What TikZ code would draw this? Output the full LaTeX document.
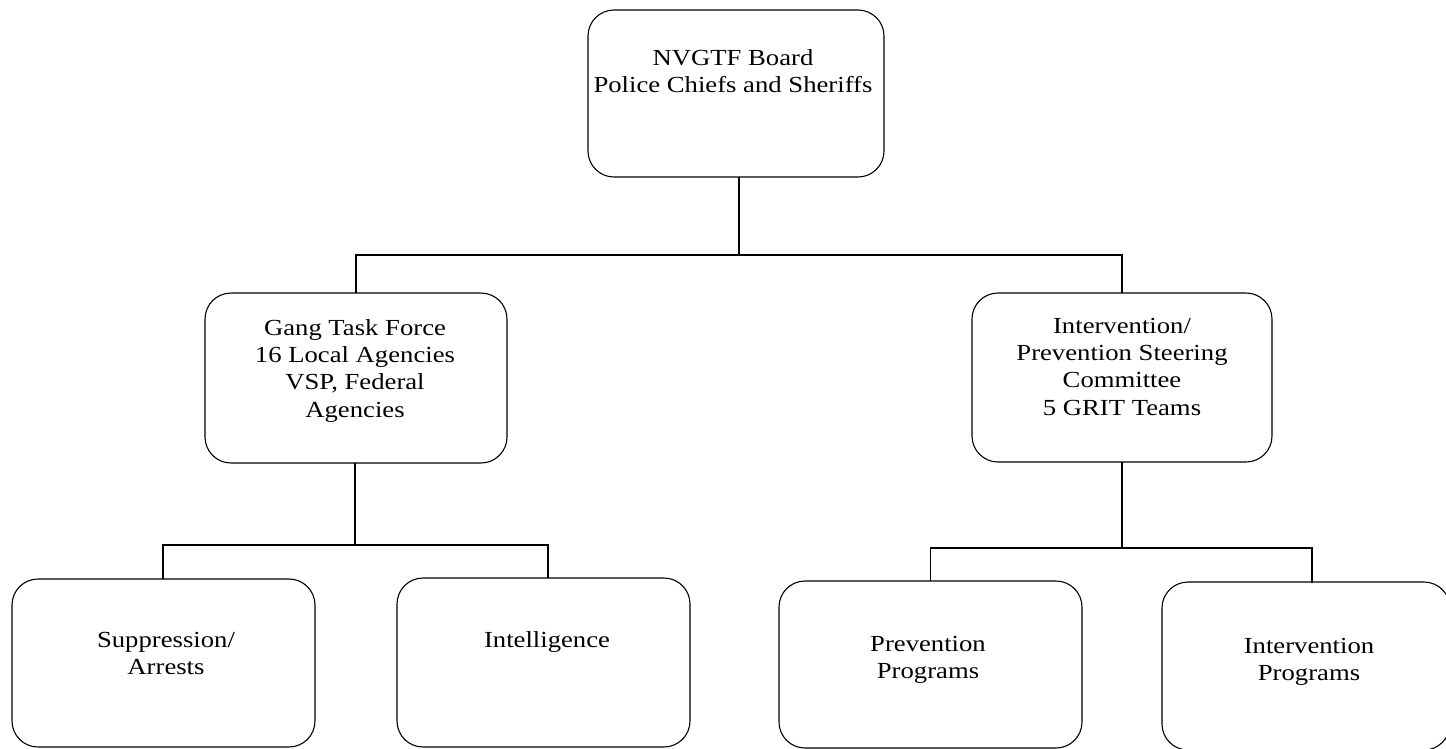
\documentclass[tikz,border=0pt]{standalone}
\usepackage{fontspec}
\setmainfont{Liberation Serif}[FakeStretch=1.16]
\begin{document}
\begin{tikzpicture}[x=1pt,y=-1pt,
  orgbox/.style={draw=black, line width=1.1pt, rounded corners=26pt, inner sep=0pt, minimum width=#1},
  boxtext/.style={anchor=north, inner sep=0pt, align=center, font=\fontsize{23}{27.4}\selectfont},
  conn/.style={draw=black, line width=1.8pt, line cap=rect}]
\useasboundingbox (0,0) rectangle (1446,748);
% boxes
\node[orgbox=296pt, minimum height=167pt] (top)    at (736,93.5) {};
\node[orgbox=302pt, minimum height=170pt] (gang)   at (356,378) {};
\node[orgbox=300pt, minimum height=169pt] (interv) at (1122,377.5) {};
\node[orgbox=303pt, minimum height=168pt] (supp)   at (163.5,663) {};
\node[orgbox=293pt, minimum height=169pt] (intel)  at (543.5,662.5) {};
\node[orgbox=303pt, minimum height=167pt] (prev)   at (930.5,664.5) {};
\node[orgbox=288pt, minimum height=168pt] (iprog)  at (1306,666) {};
% texts
\node[boxtext] (ttop)    at (733,45.8)  {\strut NVGTF Board\\Police Chiefs and Sheriffs};
\node[boxtext] (tgang)   at (355,315.8) {\strut Gang Task Force\\16 Local Agencies\\VSP, Federal\\Agencies};
\node[boxtext] (tinterv) at (1122,313.8) {\strut Intervention/\\Prevention Steering\\Committee\\5 GRIT Teams};
\node[boxtext] (tsupp)   at (166,627.8) {\strut Suppression/\\Arrests};
\node[boxtext] (tintel)  at (547,627.8) {\strut Intelligence};
\node[boxtext] (tprev)   at (928,631.8) {\strut Prevention\\Programs};
\node[boxtext] (tiprog)  at (1309,633.8) {\strut Intervention\\Programs};
% bus coordinates
\coordinate (b1) at (739,255);
\coordinate (b2) at (355,545);
\coordinate (b3) at (1122,548);
\coordinate (ip) at (1312,582);
% connectors
\draw[conn] ([xshift=3pt]top.south) -- (b1);
\draw[conn] (b1) -| (gang.north);
\draw[conn] (b1) -| (interv.north);
\draw[conn] ([xshift=-1pt]gang.south) -- (b2);
\draw[conn] (b2) -| ([xshift=-0.5pt]supp.north);
\draw[conn] (b2) -| ([xshift=4.5pt]intel.north);
\draw[conn] (interv.south) -- (b3);
\draw[conn] (b3) -| (prev.north);
\draw[conn] (b3) -| (ip);
\end{tikzpicture}
\end{document}
